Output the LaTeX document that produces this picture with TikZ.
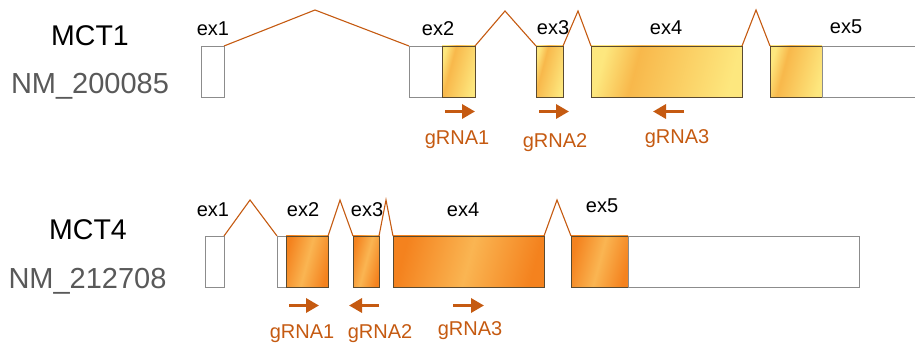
\documentclass[tikz,border=0pt]{standalone}
\usepackage{fontspec}
\setmainfont{Liberation Sans}
\usetikzlibrary{arrows.meta}

\definecolor{rust}{HTML}{C55A11}
\definecolor{nmgray}{HTML}{595959}
\definecolor{yelA}{HTML}{FDE77E}
\definecolor{yelB}{HTML}{F8B84B}
\definecolor{orA}{HTML}{F4821E}
\definecolor{orB}{HTML}{FAB552}
\definecolor{coreline}{HTML}{5A4A30}
\definecolor{utrline}{HTML}{8C8C8C}

% exon fills: pale yellow with an orange band, and deep orange with a light band
\pgfdeclarehorizontalshading{mctone}{100bp}{color(0bp)=(yelA); color(25bp)=(yelA); color(38bp)=(yelB); color(75bp)=(yelA); color(100bp)=(yelA)}
\pgfdeclarehorizontalshading{mctfour}{100bp}{color(0bp)=(orA); color(25bp)=(orA); color(50bp)=(orB); color(75bp)=(orA); color(100bp)=(orA)}

\tikzset{
  exonbox/.style={rectangle, inner sep=0pt, outer sep=0pt, minimum height=51pt, line width=0.8pt},
  utr/.style={exonbox, draw=utrline, fill=white},
  cdsone/.style={exonbox, draw=coreline, shading=mctone, shading angle=-15},
  cdsfour/.style={exonbox, draw=coreline, shading=mctfour, shading angle=-15},
  intron/.style={draw=rust, line width=1.1pt},
  exlabel/.style={anchor=base, font=\fontsize{20}{23}\selectfont, text=black, inner sep=0pt},
  glabel/.style={anchor=base, font=\fontsize{20}{23}\selectfont, text=rust, inner sep=0pt},
  genename/.style={anchor=base, font=\fontsize{28.5}{32}\selectfont, text=black, inner sep=0pt},
  acc/.style={anchor=base, font=\fontsize{29}{32}\selectfont, text=nmgray, inner sep=0pt},
  grna/.style={draw=rust, line width=3.6pt, -{Triangle[length=13pt, width=14pt, fill=rust]}},
}

\begin{document}
\begin{tikzpicture}[x=1pt, y=-1pt]
\useasboundingbox (0,0) rectangle (915,347);

% ---------- MCT1 ----------
\node[genename] (n1) at (90,46) {MCT1};
\node[acc] (acc1) at (90,94) {NM\_200085};

\node[utr, minimum width=23pt] (a1) at (212.5,71.5) {};
\node[utr, minimum width=33pt] (a2u) at (425.5,71.5) {};
\node[cdsone, minimum width=33pt] (a2) at (458.5,71.5) {};
\node[cdsone, minimum width=27pt] (a3) at (549.5,71.5) {};
\node[cdsone, minimum width=151pt] (a4) at (666.5,71.5) {};
\node[cdsone, minimum width=52pt] (a5) at (796,71.5) {};
\node[utr, minimum width=96pt, anchor=west] (a5u) at (a5.east) {};

\coordinate (ap1) at (315,10);
\coordinate (ap2) at (505,11);
\coordinate (ap3) at (578,11);
\coordinate (ap4) at (756,10);
\draw[intron] (a1.north east) -- (ap1) -- (a2u.north west);
\draw[intron] (a2.north east) -- (ap2) -- (a3.north west);
\draw[intron] (a3.north east) -- (ap3) -- (a4.north west);
\draw[intron] (a4.north east) -- (ap4) -- (a5.north west);

\node[exlabel] (la1) at (213,36) {ex1};
\node[exlabel] (la2) at (438,36) {ex2};
\node[exlabel] (la3) at (553,34.3) {ex3};
\node[exlabel] (la4) at (666,34.3) {ex4};
\node[exlabel] (la5) at (846,33.3) {ex5};

\coordinate (g1s) at (445,111.5); \coordinate (g1e) at (475,111.5);
\coordinate (g2s) at (539,111.5); \coordinate (g2e) at (569,111.5);
\coordinate (g3s) at (684,111.5); \coordinate (g3e) at (653,111.5);
\draw[grna] (g1s) -- (g1e);
\draw[grna] (g2s) -- (g2e);
\draw[grna] (g3s) -- (g3e);
\node[glabel] (ga1) at (457,145) {gRNA1};
\node[glabel] (ga2) at (555,148) {gRNA2};
\node[glabel] (ga3) at (677,144) {gRNA3};

% ---------- MCT4 ----------
\node[genename] (n4) at (88,240) {MCT4};
\node[acc] (acc4) at (87.5,288.3) {NM\_212708};

\node[utr, minimum width=19pt] (b1) at (214.5,261.5) {};
\node[utr, minimum width=9pt] (b2u) at (281.5,261.5) {};
\node[cdsfour, minimum width=42pt] (b2) at (307,261.5) {};
\node[cdsfour, minimum width=26pt] (b3) at (366,261.5) {};
\node[cdsfour, minimum width=151pt] (b4) at (468.5,261.5) {};
\node[cdsfour, minimum width=57pt] (b5) at (599.5,261.5) {};
\node[utr, minimum width=231pt, anchor=west] (b5u) at (b5.east) {};

\coordinate (bp1) at (250,200);
\coordinate (bp2) at (340,200);
\coordinate (bp3) at (386,200);
\coordinate (bp4) at (557,200);
\draw[intron] (b1.north east) -- (bp1) -- (b2u.north west);
\draw[intron] (b2.north east) -- (bp2) -- (b3.north west);
\draw[intron] (b3.north east) -- (bp3) -- (b4.north west);
\draw[intron] (b4.north east) -- (bp4) -- (b5.north west);

\node[exlabel] (lb1) at (213,216.7) {ex1};
\node[exlabel] (lb2) at (303,216.7) {ex2};
\node[exlabel] (lb3) at (367,216.7) {ex3};
\node[exlabel] (lb4) at (463,216.7) {ex4};
\node[exlabel] (lb5) at (602,212.3) {ex5};

\coordinate (h1s) at (289,305.5); \coordinate (h1e) at (319,305.5);
\coordinate (h2s) at (379,305.5); \coordinate (h2e) at (349,305.5);
\coordinate (h3s) at (453,305.5); \coordinate (h3e) at (484,305.5);
\draw[grna] (h1s) -- (h1e);
\draw[grna] (h2s) -- (h2e);
\draw[grna] (h3s) -- (h3e);
\node[glabel] (gb1) at (302,338.3) {gRNA1};
\node[glabel] (gb2) at (380,338.3) {gRNA2};
\node[glabel] (gb3) at (470,335) {gRNA3};
\end{tikzpicture}
\end{document}
